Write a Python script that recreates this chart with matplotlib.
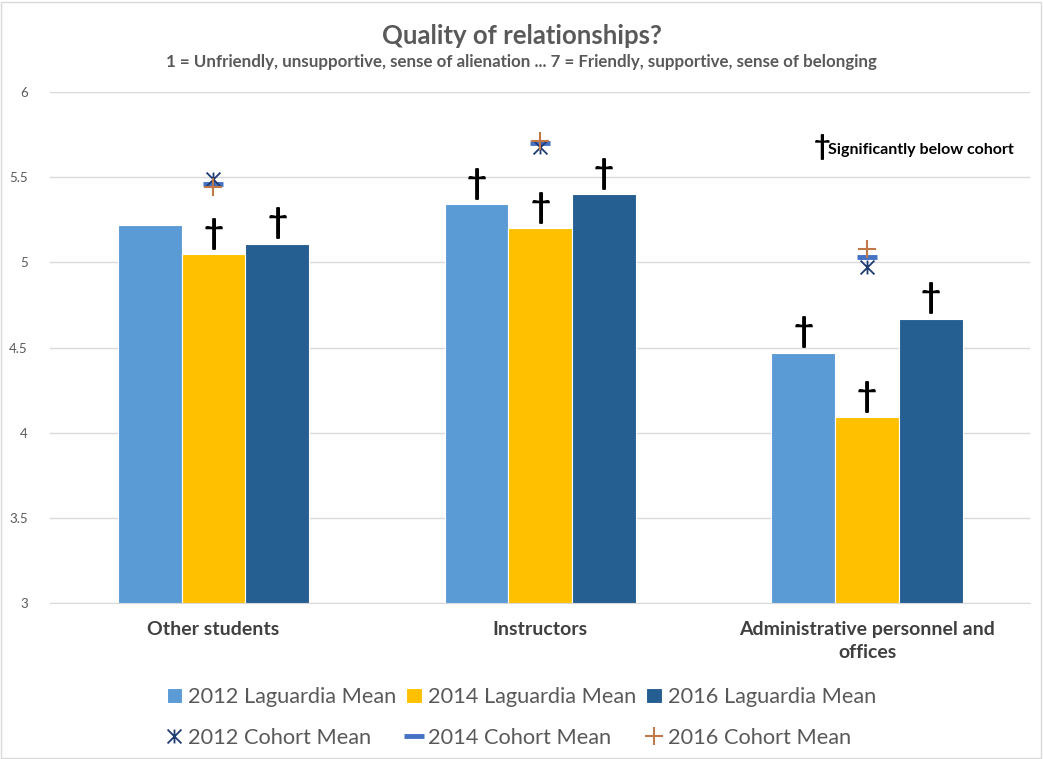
import numpy as np
import matplotlib.pyplot as plt
from matplotlib.path import Path
from matplotlib.patches import Rectangle

plt.rcParams['font.family'] = ['Lato', 'DejaVu Sans']

# ------------------------------------------------------------------
# Dati
# ------------------------------------------------------------------
categories = ['Other students', 'Instructors', 'Administrative personnel and\noffices']

laguardia_2012 = [5.22, 5.34, 4.47]
laguardia_2014 = [5.05, 5.20, 4.09]
laguardia_2016 = [5.11, 5.40, 4.67]

cohort_2012 = [5.49, 5.68, 4.97]
cohort_2014 = [5.46, 5.70, 5.03]
cohort_2016 = [5.44, 5.71, 5.08]

# True = significativamente sotto la coorte (dagger)
sig_2012 = [False, True, True]
sig_2014 = [True, True, True]
sig_2016 = [True, True, True]

yticks = [3, 3.5, 4, 4.5, 5, 5.5, 6]
ytick_labels = ['3', '3.5', '4', '4.5', '5', '5.5', '6']

# ------------------------------------------------------------------
# Grafico
# ------------------------------------------------------------------
grey = '#595959'
fig = plt.figure(figsize=(10.43, 7.59), dpi=100)
ax = fig.add_axes([0.048, 0.2055, 0.94, 0.6733])

x = np.arange(len(categories))
w = 0.195

b1 = ax.bar(x - w, laguardia_2012, w, color='#5B9BD5', edgecolor='white', linewidth=0.8,
            label='2012 Laguardia Mean', zorder=2)
b2 = ax.bar(x, laguardia_2014, w, color='#FFC000', edgecolor='white', linewidth=0.8,
            label='2014 Laguardia Mean', zorder=2)
b3 = ax.bar(x + w, laguardia_2016, w, color='#255E91', edgecolor='white', linewidth=0.8,
            label='2016 Laguardia Mean', zorder=2)

# marker asterisco (X + linea verticale)
star = Path([(-1, -1), (1, 1), (-1, 1), (1, -1), (0, -1), (0, 1)],
            [Path.MOVETO, Path.LINETO, Path.MOVETO, Path.LINETO, Path.MOVETO, Path.LINETO])

m1, = ax.plot(x, cohort_2012, linestyle='none', marker=star, markersize=10, markeredgewidth=1.3,
              color='#1F3B73', label='2012 Cohort Mean', zorder=4)
m2, = ax.plot(x, cohort_2014, linestyle='none', marker='_', markersize=14, markeredgewidth=3.5,
              color='#4472C4', label='2014 Cohort Mean', zorder=3)
m3, = ax.plot(x, cohort_2016, linestyle='none', marker='+', markersize=13, markeredgewidth=1.5,
              color='#C0774A', label='2016 Cohort Mean', zorder=5)

# dagger sopra le barre
for offs, vals, sig in [(-w, laguardia_2012, sig_2012), (0, laguardia_2014, sig_2014),
                        (w, laguardia_2016, sig_2016)]:
    for xi, v, s in zip(x, vals, sig):
        if s:
            ax.annotate('\u2020', (xi + offs, v), xytext=(0, 3), textcoords='offset points',
                        ha='center', va='bottom', fontsize=25, fontweight='bold', color='black')

ax.set_xlim(-0.5, 2.5)
ax.set_ylim(3, 6)
ax.set_yticks(yticks)
ax.set_yticklabels(ytick_labels)
ax.set_xticks(x)
ax.set_xticklabels(categories, fontsize=14, fontweight='bold', color='#404040', linespacing=1.45)
ax.tick_params(axis='x', length=0, pad=13)
ax.tick_params(axis='y', length=0, pad=16, labelsize=9.5, labelcolor=grey)
ax.yaxis.grid(True, color='#D9D9D9', linewidth=1, zorder=0)
ax.set_axisbelow(True)
for sp in ['top', 'right', 'left']:
    ax.spines[sp].set_visible(False)
ax.spines['bottom'].set_color('#D9D9D9')

# nota dagger
fig.text(0.788, 0.806, '\u2020', fontsize=21, fontweight='bold',
         ha='center', va='center', color='black')
fig.text(0.7935, 0.802, 'Significantly below cohort', fontsize=11.5,
         fontweight='bold', ha='left', va='center', color='black')

fig.text(0.5, 0.953, 'Quality of relationships?', ha='center', va='center',
         fontsize=18.5, fontweight='bold', color=grey)
fig.text(0.5, 0.918, '1 = Unfriendly, unsupportive, sense of alienation ... 7 = Friendly, supportive, sense of belonging',
         ha='center', va='center', fontsize=12.2, fontweight='bold', color=grey)

handles = [b1, m1, b2, m2, b3, m3]
labels = [h.get_label() for h in handles]
leg = fig.legend(handles, labels, ncol=3, loc='center', bbox_to_anchor=(0.5, 0.055),
                 frameon=False, fontsize=15.7, handlelength=0.7, handletextpad=0.3,
                 columnspacing=0.45, labelspacing=0.95, markerscale=1)
for t in leg.get_texts():
    t.set_color(grey)

fig.patches.append(Rectangle((0.001, 0.001), 0.997, 0.997, transform=fig.transFigure,
                             fill=False, edgecolor='#D9D9D9', linewidth=1))

fig.savefig('out.png', dpi=100)
